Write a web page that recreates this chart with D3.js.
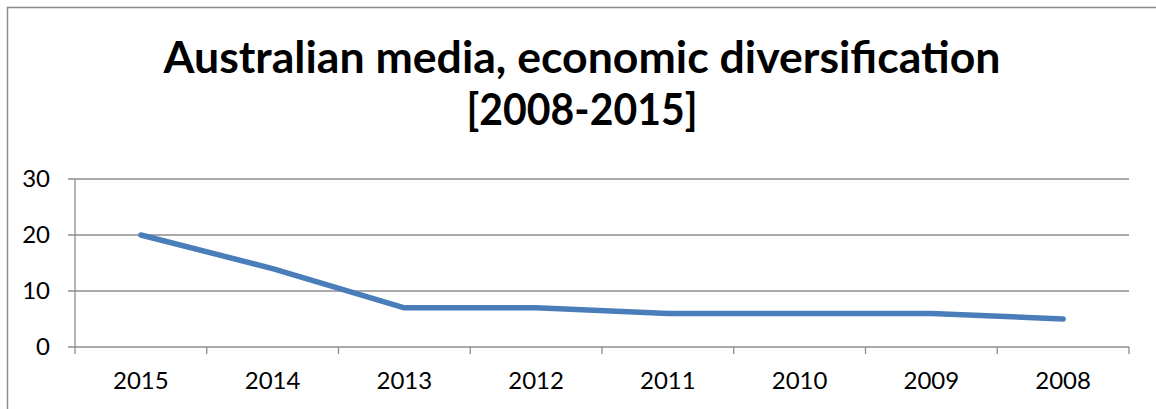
<!DOCTYPE html>
<html>
<head>
<meta charset="utf-8">
<script src="https://cdn.jsdelivr.net/npm/d3@7"></script>
<style>
  body { margin: 0; background: #fff; }
  svg { display: block; }
</style>
</head>
<body>
<div class="chart"></div>
<script>
// Data
var years = ["2015", "2014", "2013", "2012", "2011", "2010", "2009", "2008"];
var values = [20, 14, 7, 7, 6, 6, 6, 5];
var yTicks = [0, 10, 20, 30];
var titleLines = ["Australian media, economic diversification", "[2008-2015]"];

function drawChart(){
  var w = 1156;
  var h = 409;
  var left = 75, right = 1129, top = 179, bottom = 347;

  var svg = d3.select(".chart")
              .append("svg")
              .attr("width", w)
              .attr("height", h);

  //Outer frame (only top and left edges are in view)
  svg.append("rect")
     .attr("x", 7.5).attr("y", 7.5)
     .attr("width", w + 20).attr("height", h + 20)
     .attr("fill", "none")
     .attr("stroke", "#8c8c8c")
     .attr("stroke-width", 1.5);

  //Title
  svg.selectAll(".title")
     .data(titleLines)
     .enter()
     .append("text")
     .attr("class", "title")
     .attr("x", 582)
     .attr("y", function(d, i){ return i == 0 ? 73 : 125; })
     .attr("text-anchor", "middle")
     .attr("textLength", function(d, i){ return i == 0 ? 837 : 231; })
     .attr("lengthAdjust", "spacingAndGlyphs")
     .style("font-family", "Lato")
     .style("font-weight", "bold")
     .style("font-size", "44px")
     .style("fill", "#000")
     .text(function(d){ return d; });

  //Scales
  var x = d3.scaleBand()
            .domain(years)
            .range([left, right])
            .padding(0);

  var y = d3.scaleLinear()
            .domain([0, 30])
            .range([bottom, top]);

  //Gridlines (with the little tick out to the left)
  svg.selectAll(".grid")
     .data(yTicks)
     .enter()
     .append("line")
     .attr("class", "grid")
     .attr("x1", left - 7)
     .attr("x2", right)
     .attr("y1", function(d){ return y(d); })
     .attr("y2", function(d){ return y(d); })
     .attr("stroke", "#8c8c8c")
     .attr("stroke-width", 1.3);

  //Y axis line
  svg.append("line")
     .attr("x1", left).attr("x2", left)
     .attr("y1", y(30)).attr("y2", y(0))
     .attr("stroke", "#8c8c8c")
     .attr("stroke-width", 1.3);

  //Y axis labels
  var yAxis = d3.axisLeft(y)
                .tickValues(yTicks)
                .tickSize(0)
                .tickPadding(0);

  var gy = svg.append("g")
              .attr("transform", "translate(50,0)")
              .call(yAxis);
  gy.select(".domain").remove();
  gy.selectAll("text")
    .style("font-family", "Lato")
    .style("font-size", "24px")
    .style("fill", "#000");

  //X axis tick marks at the category boundaries
  var bounds = years.map(function(d){ return x(d); }).concat([right]);
  svg.selectAll(".xtick")
     .data(bounds)
     .enter()
     .append("line")
     .attr("class", "xtick")
     .attr("x1", function(d){ return d; })
     .attr("x2", function(d){ return d; })
     .attr("y1", bottom)
     .attr("y2", bottom + 7)
     .attr("stroke", "#8c8c8c")
     .attr("stroke-width", 1.3);

  //X axis labels
  var xAxis = d3.axisBottom(x)
                .tickSize(0)
                .tickPadding(0);

  var gx = svg.append("g")
              .attr("transform", "translate(0," + (bottom + 25) + ")")
              .call(xAxis);
  gx.select(".domain").remove();
  gx.selectAll("text")
    .attr("dy", "0.71em")
    .style("font-family", "Lato")
    .style("font-size", "24px")
    .style("fill", "#000");

  //The line
  var line = d3.line()
               .x(function(d, i){ return x(years[i]) + x.bandwidth() / 2; })
               .y(function(d){ return y(d); });

  svg.append("path")
     .datum(values)
     .attr("d", line)
     .attr("fill", "none")
     .attr("stroke", "#4a7ebb")
     .attr("stroke-width", 5.5)
     .attr("stroke-linecap", "round")
     .attr("stroke-linejoin", "round");
}

drawChart();
</script>
</body>
</html>
